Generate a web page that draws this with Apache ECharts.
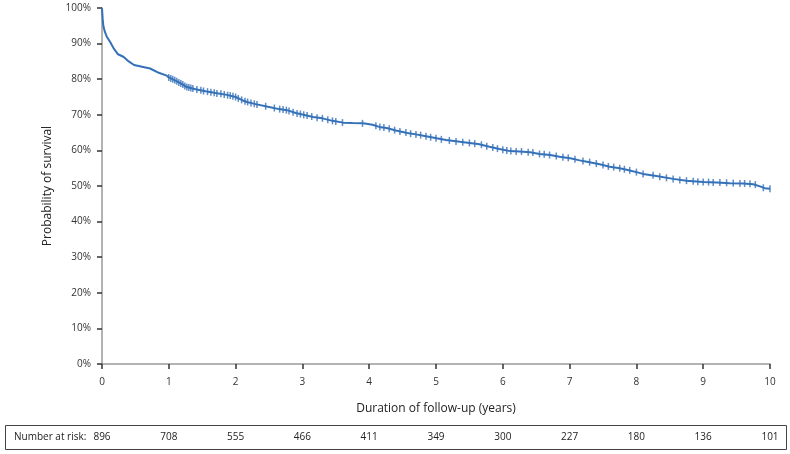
<!DOCTYPE html>
<html>
<head>
<meta charset="utf-8">
<script src="https://cdn.jsdelivr.net/npm/echarts@6/dist/echarts.min.js"></script>
<style>
  html, body { margin: 0; padding: 0; background: #fff; }
  #km { width: 790px; height: 454px; }
</style>
</head>
<body>
<div id="km"></div>
<script>
// follow-up time (years) and survival (%)
const years = [0, 0.01, 0.02, 0.04, 0.07, 0.12, 0.18, 0.24, 0.32, 0.40, 0.48, 0.6, 0.72, 0.85, 0.97,
  1.0, 1.1, 1.2, 1.27, 1.4, 1.55, 1.7, 1.87, 2.0, 2.1, 2.17, 2.3, 2.5, 2.65, 2.77, 2.9, 3.0, 3.16,
  3.3, 3.45, 3.61, 3.75, 3.91, 4.05, 4.15, 4.26, 4.4, 4.57, 4.7, 4.85, 5.01, 5.15, 5.36, 5.5, 5.63,
  5.8, 5.95, 6.11, 6.25, 6.41, 6.55, 6.71, 6.85, 7.01, 7.15, 7.26, 7.45, 7.6, 7.75, 7.87, 8.0, 8.1,
  8.3, 8.55, 8.75, 9.0, 9.2, 9.4, 9.6, 9.75, 9.85, 9.92, 10.0]
const survival = [100, 97, 95, 93.5, 92, 90.5, 88.5, 87, 86.3, 85, 84, 83.5, 83, 81.8, 81,
  80.5, 79.6, 78.6, 77.8, 77.2, 76.6, 76.1, 75.6, 75.0, 74.1, 73.6, 73.0, 72.2, 71.6, 71.3, 70.5, 70.1, 69.4,
  69.0, 68.3, 67.8, 67.7, 67.6, 67.2, 66.6, 66.3, 65.6, 64.9, 64.5, 64.0, 63.4, 62.9, 62.4, 62.1, 61.8,
  61.0, 60.4, 59.8, 59.7, 59.5, 59.0, 58.7, 58.2, 57.8, 57.2, 56.8, 56.1, 55.4, 55.0, 54.5, 53.9, 53.4,
  52.8, 52.0, 51.5, 51.1, 51.0, 50.8, 50.7, 50.5, 49.9, 49.4, 49.2]

// censored observations (tick marks on the curve)
const censorYears = [1.00, 1.03, 1.06, 1.09, 1.12, 1.15, 1.18, 1.21, 1.24, 1.27, 1.30, 1.33, 1.36,
  1.42, 1.48, 1.52, 1.58, 1.63, 1.68, 1.72, 1.78, 1.83, 1.88, 1.92, 1.96,
  2.0, 2.04, 2.09, 2.14, 2.18, 2.23, 2.28, 2.32, 2.45, 2.58,
  2.66, 2.71, 2.76, 2.8, 2.86, 2.92, 2.97, 3.02, 3.07,
  3.14, 3.22, 3.3, 3.38, 3.45, 3.5, 3.6, 3.9,
  4.1, 4.16, 4.22, 4.3, 4.38, 4.46, 4.55, 4.62, 4.7, 4.77, 4.85, 4.92, 5.0,
  5.08, 5.2, 5.3, 5.4, 5.5, 5.58, 5.68, 5.76, 5.85, 5.92, 6.0, 6.06, 6.12, 6.2, 6.28,
  6.38, 6.45, 6.55, 6.62, 6.7, 6.8, 6.9, 6.98,
  7.08, 7.2, 7.3, 7.4, 7.5, 7.58, 7.66, 7.75, 7.82, 7.9,
  8.0, 8.1, 8.25, 8.35, 8.45, 8.55,
  8.65, 8.75, 8.85, 8.92, 9.0, 9.08, 9.15, 9.25, 9.35, 9.45, 9.55, 9.62, 9.7, 9.78, 9.9, 10.0]
const censorSurv = [80.5, 80.2, 80.0, 79.7, 79.4, 79.1, 78.8, 78.5, 78.1, 77.8, 77.7, 77.5, 77.4,
  77.1, 76.9, 76.7, 76.5, 76.3, 76.2, 76.0, 75.9, 75.7, 75.5, 75.4, 75.2,
  75.0, 74.6, 74.2, 73.8, 73.6, 73.3, 73.1, 72.9, 72.4, 71.9,
  71.6, 71.5, 71.3, 71.1, 70.7, 70.4, 70.2, 70.0, 69.8,
  69.5, 69.2, 69.0, 68.6, 68.3, 68.1, 67.8, 67.6,
  66.9, 66.6, 66.4, 66.1, 65.7, 65.3, 65.0, 64.7, 64.5, 64.3, 64.0, 63.7, 63.4,
  63.1, 62.8, 62.5, 62.3, 62.1, 61.9, 61.6, 61.2, 60.8, 60.5, 60.2, 60.0, 59.8, 59.7, 59.7,
  59.5, 59.4, 59.0, 58.9, 58.7, 58.4, 58.1, 57.9,
  57.5, 57.0, 56.7, 56.3, 55.9, 55.5, 55.3, 55.0, 54.7, 54.4,
  53.9, 53.4, 53.0, 52.6, 52.3, 52.0,
  51.7, 51.5, 51.3, 51.2, 51.1, 51.1, 51.0, 51.0, 50.9, 50.8, 50.7, 50.7, 50.6, 50.4, 49.5, 49.2]

// number at risk at each whole year
const atRisk = [896, 708, 555, 466, 411, 349, 300, 227, 180, 136, 101]

const font = 'Open Sans'
const blue = '#3471b9'
const chart = echarts.init(document.getElementById('km'))

const option = {
  animation: false,
  grid: { left: 102, right: 20, top: 8, bottom: 90 },
  xAxis: [
    {
      type: 'value',
      min: 0,
      max: 10,
      interval: 1,
      name: 'Duration of follow-up (years)',
      nameLocation: 'middle',
      nameGap: 39,
      nameTextStyle: { fontFamily: font, fontSize: 12, color: '#222' },
      axisLine: { lineStyle: { color: '#9a9a9a', width: 1.5 } },
      axisTick: { length: 5, lineStyle: { color: '#333', width: 1.5 } },
      axisLabel: { fontFamily: font, fontSize: 10, color: '#333', margin: 13 },
      splitLine: { show: false }
    },
    {
      type: 'value',
      position: 'bottom',
      offset: 68,
      min: 0,
      max: 10,
      interval: 1,
      axisLine: { show: false },
      axisTick: { show: false },
      axisLabel: {
        fontFamily: font,
        fontSize: 10,
        color: '#222',
        margin: 0,
        formatter: v => atRisk[v]
      },
      splitLine: { show: false }
    }
  ],
  yAxis: {
    type: 'value',
    min: 0,
    max: 100,
    interval: 10,
    name: 'Probability of survival',
    nameLocation: 'middle',
    nameGap: 48,
    nameTextStyle: { fontFamily: font, fontSize: 12, color: '#222' },
    axisLine: { show: true, lineStyle: { color: '#9a9a9a', width: 1.5 } },
    axisTick: { show: true, length: 5, lineStyle: { color: '#333', width: 1.5 } },
    axisLabel: { fontFamily: font, fontSize: 10, color: '#333', margin: 11, formatter: '{value}%' },
    splitLine: { show: false }
  },
  graphic: [
    {
      type: 'rect',
      shape: { x: 5.5, y: 425.5, width: 781, height: 24 },
      style: { fill: 'none', stroke: '#444', lineWidth: 1 }
    },
    {
      type: 'text',
      x: 14,
      y: 437.5,
      style: {
        text: 'Number at risk:',
        fontFamily: font,
        fontSize: 10,
        fill: '#222',
        verticalAlign: 'middle'
      }
    }
  ],
  series: [
    {
      type: 'line',
      data: years.map((t, i) => [t, survival[i]]),
      showSymbol: false,
      lineStyle: { color: blue, width: 2 }
    },
    {
      type: 'scatter',
      data: censorYears.map((t, i) => [t, censorSurv[i]]),
      symbol: 'rect',
      symbolSize: [1.5, 7],
      itemStyle: { color: blue }
    }
  ]
}

chart.setOption(option)
</script>
</body>
</html>
